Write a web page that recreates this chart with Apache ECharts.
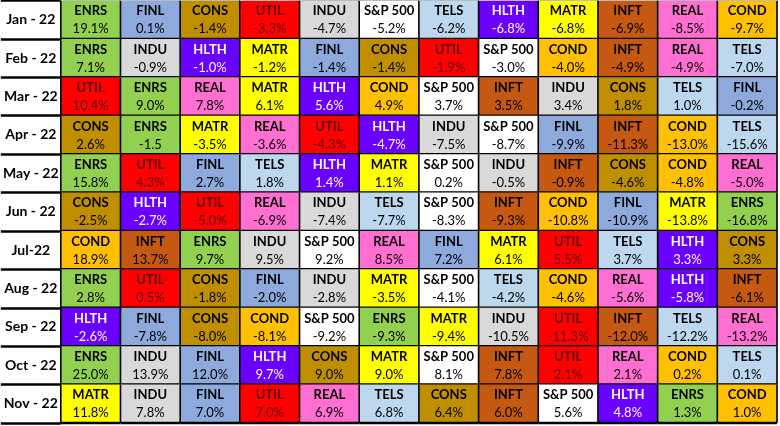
<!DOCTYPE html>
<html>
<head>
<meta charset="utf-8">
<script src="https://cdn.jsdelivr.net/npm/echarts@6/dist/echarts.min.js"></script>
<style>html,body{margin:0;padding:0;background:#fff}#c{width:780px;height:426px}</style>
</head>
<body>
<div id="c"></div>
<script>
const months = ['Jan - 22','Feb - 22','Mar - 22','Apr - 22','May - 22','Jun - 22','Jul-22','Aug - 22','Sep - 22','Oct - 22','Nov - 22'];

const janSectors = ['ENRS','FINL','CONS','UTIL','INDU','S&P 500','TELS','HLTH','MATR','INFT','REAL','COND'];
const janValues  = [19.1, 0.1, -1.4, -3.3, -4.7, -5.2, -6.2, -6.8, -6.8, -6.9, -8.5, -9.7];
const febSectors = ['ENRS','INDU','HLTH','MATR','FINL','CONS','UTIL','S&P 500','COND','INFT','REAL','TELS'];
const febValues  = [7.1, -0.9, -1.0, -1.2, -1.4, -1.4, -1.9, -3.0, -4.0, -4.9, -4.9, -7.0];
const marSectors = ['UTIL','ENRS','REAL','MATR','HLTH','COND','S&P 500','INFT','INDU','CONS','TELS','FINL'];
const marValues  = [10.4, 9.0, 7.8, 6.1, 5.6, 4.9, 3.7, 3.5, 3.4, 1.8, 1.0, -0.2];
const aprSectors = ['CONS','ENRS','MATR','REAL','UTIL','HLTH','INDU','S&P 500','FINL','INFT','COND','TELS'];
const aprValues  = [2.6, -1.5, -3.5, -3.6, -4.3, -4.7, -7.5, -8.7, -9.9, -11.3, -13.0, -15.6];
const maySectors = ['ENRS','UTIL','FINL','TELS','HLTH','MATR','S&P 500','INDU','INFT','CONS','COND','REAL'];
const mayValues  = [15.8, 4.3, 2.7, 1.8, 1.4, 1.1, 0.2, -0.5, -0.9, -4.6, -4.8, -5.0];
const junSectors = ['CONS','HLTH','UTIL','REAL','INDU','TELS','S&P 500','INFT','COND','FINL','MATR','ENRS'];
const junValues  = [-2.5, -2.7, -5.0, -6.9, -7.4, -7.7, -8.3, -9.3, -10.8, -10.9, -13.8, -16.8];
const julSectors = ['COND','INFT','ENRS','INDU','S&P 500','REAL','FINL','MATR','UTIL','TELS','HLTH','CONS'];
const julValues  = [18.9, 13.7, 9.7, 9.5, 9.2, 8.5, 7.2, 6.1, 5.5, 3.7, 3.3, 3.3];
const augSectors = ['ENRS','UTIL','CONS','FINL','INDU','MATR','S&P 500','TELS','COND','REAL','HLTH','INFT'];
const augValues  = [2.8, 0.5, -1.8, -2.0, -2.8, -3.5, -4.1, -4.2, -4.6, -5.6, -5.8, -6.1];
const sepSectors = ['HLTH','FINL','CONS','COND','S&P 500','ENRS','MATR','INDU','UTIL','INFT','TELS','REAL'];
const sepValues  = [-2.6, -7.8, -8.0, -8.1, -9.2, -9.3, -9.4, -10.5, -11.3, -12.0, -12.2, -13.2];
const octSectors = ['ENRS','INDU','FINL','HLTH','CONS','MATR','S&P 500','INFT','UTIL','REAL','COND','TELS'];
const octValues  = [25.0, 13.9, 12.0, 9.7, 9.0, 9.0, 8.1, 7.8, 2.1, 2.1, 0.2, 0.1];
const novSectors = ['MATR','INDU','FINL','UTIL','REAL','TELS','CONS','INFT','S&P 500','HLTH','ENRS','COND'];
const novValues  = [11.8, 7.8, 7.0, 7.0, 6.9, 6.8, 6.4, 6.0, 5.6, 4.8, 1.3, 1.0];

// the reference prints Apr ENRS without a percent sign
const noPercentCells = [[3, 1]];

const sectorRows = [janSectors,febSectors,marSectors,aprSectors,maySectors,junSectors,julSectors,augSectors,sepSectors,octSectors,novSectors];
const valueRows  = [janValues,febValues,marValues,aprValues,mayValues,junValues,julValues,augValues,sepValues,octValues,novValues];

const sectorColors = {
  'ENRS':'#92D050','FINL':'#8EA9DB','CONS':'#BF8F00','UTIL':'#FF0000','INDU':'#D9D9D9',
  'S&P 500':'#FFFFFF','TELS':'#BDD7EE','HLTH':'#6A00FF','MATR':'#FFFF00','INFT':'#C65911',
  'REAL':'#FF6FD2','COND':'#FFC000'
};
const textColors = {'HLTH':'#FFFFFF','UTIL':'#5a0808'};

const data = [];
sectorRows.forEach((row, r) => {
  row.forEach((s, c) => {
    const noPct = noPercentCells.some(p => p[0] === r && p[1] === c);
    const v = valueRows[r][c];
    data.push({ value: [c, r, v], sector: s, label: v.toFixed(1) + (noPct ? '' : '%') });
  });
});

const chart = echarts.init(document.getElementById('c'), null, {renderer: 'canvas'});
const FONT = 'Lato, "Open Sans", sans-serif';

chart.setOption({
  animation: false,
  backgroundColor: '#fff',
  grid: { left: 60, right: 3, top: 0.5, bottom: 3 },
  xAxis: {
    type: 'category',
    data: janSectors.map((_, i) => i + 1),
    show: false
  },
  yAxis: {
    type: 'category',
    data: months,
    inverse: true,
    axisLine: { show: true, lineStyle: { color: '#000', width: 2 } },
    axisTick: { show: true, length: 60, lineStyle: { color: '#000', width: 2.5 } },
    axisLabel: {
      align: 'center', margin: 30,
      color: '#000', fontFamily: FONT, fontWeight: 'bold', fontSize: 14
    },
    splitLine: { show: false }
  },
  series: [{
    type: 'custom',
    data: data,
    renderItem: function (params, api) {
      const c = api.value(0), r = api.value(1);
      const item = data[params.dataIndex];
      const p = api.coord([c, r]);
      const sz = api.size([1, 1]);
      const x = p[0] - sz[0] / 2, y = p[1] - sz[1] / 2, w = sz[0], h = sz[1];
      const tc = textColors[item.sector] || '#000';
      const children = [
        { type: 'rect', shape: { x: x, y: y, width: w, height: h }, style: { fill: sectorColors[item.sector] } },
        { type: 'line', shape: { x1: x, y1: y, x2: x, y2: y + h }, style: { stroke: '#000', lineWidth: 1.6 } },
        { type: 'line', shape: { x1: x, y1: y + h, x2: x + w, y2: y + h }, style: { stroke: '#000', lineWidth: 2.5 } },
        { type: 'text', style: { text: item.sector, x: p[0], y: p[1] - 8.5, align: 'center', verticalAlign: 'middle',
            fill: tc, font: 'bold 13px ' + FONT } },
        { type: 'text', style: { text: item.label, x: p[0], y: p[1] + 9.5, align: 'center', verticalAlign: 'middle',
            fill: tc, font: '13px ' + FONT } }
      ];
      if (c === janSectors.length - 1) {
        children.push({ type: 'line', shape: { x1: x + w, y1: y, x2: x + w, y2: y + h }, style: { stroke: '#000', lineWidth: 1.6 } });
      }
      if (r === 0) {
        children.push({ type: 'line', shape: { x1: x, y1: y, x2: x + w, y2: y }, style: { stroke: '#bbb', lineWidth: 1 } });
      }
      return { type: 'group', children: children };
    }
  }]
});
</script>
</body>
</html>
